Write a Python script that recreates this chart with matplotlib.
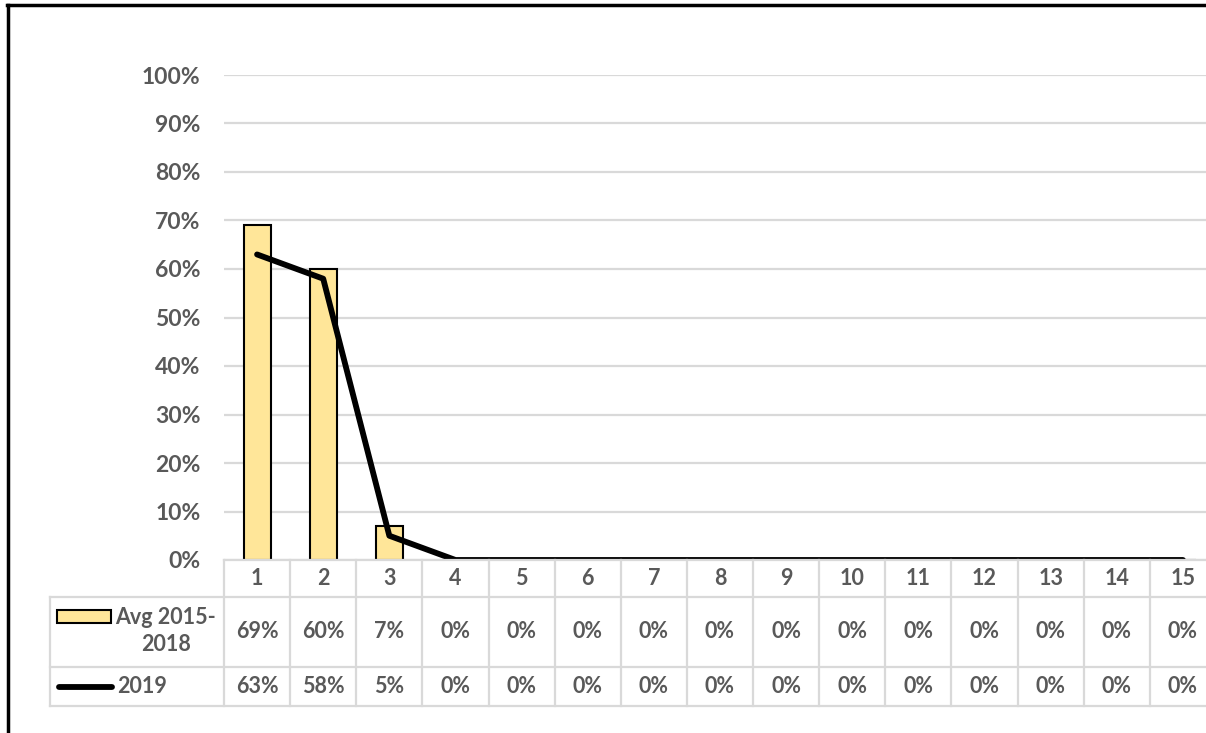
import matplotlib
matplotlib.use("Agg")
import matplotlib.pyplot as plt
from matplotlib.patches import Rectangle
from matplotlib.lines import Line2D

# data
categories = list(range(1, 16))
avg_2015_2018 = [69, 60, 7, 0, 0, 0, 0, 0, 0, 0, 0, 0, 0, 0, 0]
y2019 = [63, 58, 5, 0, 0, 0, 0, 0, 0, 0, 0, 0, 0, 0, 0]
series_names = ["Avg 2015-\n2018", "2019"]
yticks = [0, 10, 20, 30, 40, 50, 60, 70, 80, 90, 100]

plt.rcParams['font.family'] = ['Lato', 'DejaVu Sans']
txt = '#595959'
grid_c = '#D9D9D9'
bar_c = '#FFE699'
fs = 15.5

W, H = 1206, 733
fig = plt.figure(figsize=(W / 100, H / 100), dpi=100)

# main plot area (pixel layout)
px_left, px_right, px_top, px_bot = 224, 1216, 75, 560
ax = fig.add_axes([px_left / W, 1 - px_bot / H, (px_right - px_left) / W, (px_bot - px_top) / H])
ax.set_xlim(0.5, 15.5)
ax.set_ylim(0, 100)
for s in ax.spines.values():
    s.set_visible(False)
ax.set_xticks([])
ax.set_yticks(yticks)
ax.set_yticklabels([f"{v}%" for v in yticks], fontsize=16.5, fontweight='bold', color=txt)
ax.tick_params(axis='y', length=0, pad=17)
ax.grid(axis='y', color=grid_c, linewidth=1.6)
ax.set_axisbelow(True)

ax.bar(categories, avg_2015_2018, width=0.41, color=bar_c, edgecolor='black', linewidth=1.5, zorder=3)
ax.plot(categories, y2019, color='black', linewidth=4.2, solid_capstyle='round',
        solid_joinstyle='round', zorder=4)

# data table below the plot
tb_left, tb_bot = 50, 706
row_edges = [0, 37, 107, 146]  # pixel offsets below the plot area
colw = (px_right - px_left) / 15
lab_w = (px_left - tb_left) / colw
tax = fig.add_axes([tb_left / W, 1 - tb_bot / H, (px_right - tb_left) / W, (tb_bot - px_bot) / H])
tax.set_xlim(0.5 - lab_w, 15.5)
tax.set_ylim(row_edges[-1], 0)
tax.axis('off')

# grid of the table
for k in range(16):
    tax.plot([0.5 + k, 0.5 + k], [0, row_edges[-1]], color=grid_c, linewidth=1.6, clip_on=False)
tax.plot([0.5 - lab_w, 0.5 - lab_w], [row_edges[1], row_edges[-1]], color=grid_c, linewidth=1.6, clip_on=False)
tax.plot([0.5, 15.5], [0, 0], color=grid_c, linewidth=1.6, clip_on=False)
for r in row_edges[1:]:
    tax.plot([0.5 - lab_w, 15.5], [r, r], color=grid_c, linewidth=1.6, clip_on=False)

mid = lambda i: (row_edges[i] + row_edges[i + 1]) / 2
for c in categories:
    tax.text(c, mid(0), str(c), ha='center', va='center', fontsize=fs, fontweight='bold', color=txt)
for c, a, b in zip(categories, avg_2015_2018, y2019):
    tax.text(c, mid(1), f"{a}%", ha='center', va='center', fontsize=fs, fontweight='bold', color=txt)
    tax.text(c, mid(2), f"{b}%", ha='center', va='center', fontsize=fs, fontweight='bold', color=txt)

# legend keys inside the table
x0 = 0.5 - lab_w
k0 = x0 + 7 / colw
k1 = x0 + 61 / colw
tax.add_patch(Rectangle((k0, 50), k1 - k0, 13, facecolor=bar_c, edgecolor='black', linewidth=1.5, clip_on=False))
tax.text(x0 + 116 / colw, mid(1) - 1, series_names[0], ha='center', va='center', fontsize=fs,
         fontweight='bold', color=txt, linespacing=1.35)
tax.plot([x0 + 9 / colw, x0 + 62 / colw], [mid(2), mid(2)], color='black', linewidth=4.2,
         solid_capstyle='round', clip_on=False)
tax.text(x0 + 67 / colw, mid(2), series_names[1], ha='left', va='center', fontsize=fs, fontweight='bold', color=txt)

# outer frame (top and left edges)
fig.add_artist(Line2D([7 / W, 1], [1 - 5 / H, 1 - 5 / H], color='black', linewidth=2.5, transform=fig.transFigure))
fig.add_artist(Line2D([8 / W, 8 / W], [0, 1 - 5 / H], color='black', linewidth=2.5, transform=fig.transFigure))

fig.savefig("out.png", dpi=100, facecolor='white')
